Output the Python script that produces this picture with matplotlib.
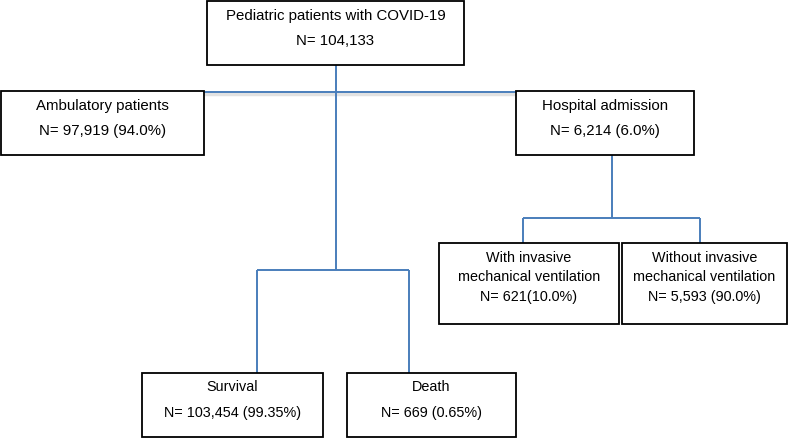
import matplotlib
matplotlib.use("Agg")
import matplotlib.pyplot as plt
from matplotlib.patches import Rectangle

# flowchart content
node_names = ["total", "ambulatory", "hospital", "imv", "no_imv", "survival", "death"]
node_titles = ["Pediatric patients with COVID-19", "Ambulatory patients", "Hospital admission",
               "With invasive\nmechanical ventilation", "Without invasive\nmechanical ventilation",
               "Survival", "Death"]
node_counts = ["N= 104,133", "N= 97,919 (94.0%)", "N= 6,214 (6.0%)",
               "N= 621(10.0%)", "N= 5,593 (90.0%)",
               "N= 103,454 (99.35%)", "N= 669 (0.65%)"]

# layout in pixel units: (x0, y0, x1, y1)
BOXES = {
    "total": (207, 1, 464, 65),
    "ambulatory": (1, 91, 204, 155),
    "hospital": (516, 91, 694, 155),
    "imv": (439, 243, 619, 324),
    "no_imv": (622, 243, 787, 324),
    "survival": (142, 373, 323, 437),
    "death": (347, 373, 516, 437),
}
LINE = "#4a7ebb"
FONT = "Liberation Sans"

fig = plt.figure(figsize=(7.88, 4.38), dpi=100)
ax = fig.add_axes([0, 0, 1, 1])
ax.set_xlim(0, 788)
ax.set_ylim(438, 0)
ax.axis("off")


def seg(xs, ys):
    ax.plot(xs, ys, color=LINE, lw=1.4, solid_capstyle="butt", zorder=1)


# connectors
ax.plot([204, 516], [94, 94], color="#d0d0d0", lw=2.5, alpha=0.6, zorder=0)  # faint shadow
seg([204, 516], [92, 92])
seg([336, 336], [65, 270])
seg([257, 409], [270, 270])
seg([257, 257], [270, 373])
seg([409, 409], [270, 373])
seg([612, 612], [155, 218])
seg([523, 700], [218, 218])
seg([523, 523], [218, 243])
seg([700, 700], [218, 243])

for name, title, count in zip(node_names, node_titles, node_counts):
    x0, y0, x1, y1 = BOXES[name]
    ax.add_patch(Rectangle((x0, y0), x1 - x0, y1 - y0, facecolor="white",
                           edgecolor="black", lw=1.3, zorder=2))
    cx = (x0 + x1) / 2
    if name in ("total", "ambulatory", "hospital"):
        # the original uses a condensed face; plain sans at a smaller size keeps the width
        lines, ys, size = [title, count], [y0 + 15, y0 + 40], 10.8
    elif name in ("imv", "no_imv"):
        lines, ys, size = title.split("\n") + [count], [y0 + 15, y0 + 34, y0 + 54], 10.4
    else:
        lines, ys, size = [title, count], [y0 + 14, y0 + 40], 10.4
    for txt, yy in zip(lines, ys):
        ax.text(cx, yy, txt, ha="center", va="center", fontsize=size,
                family=FONT, zorder=3)

fig.savefig("out.png", dpi=100)
